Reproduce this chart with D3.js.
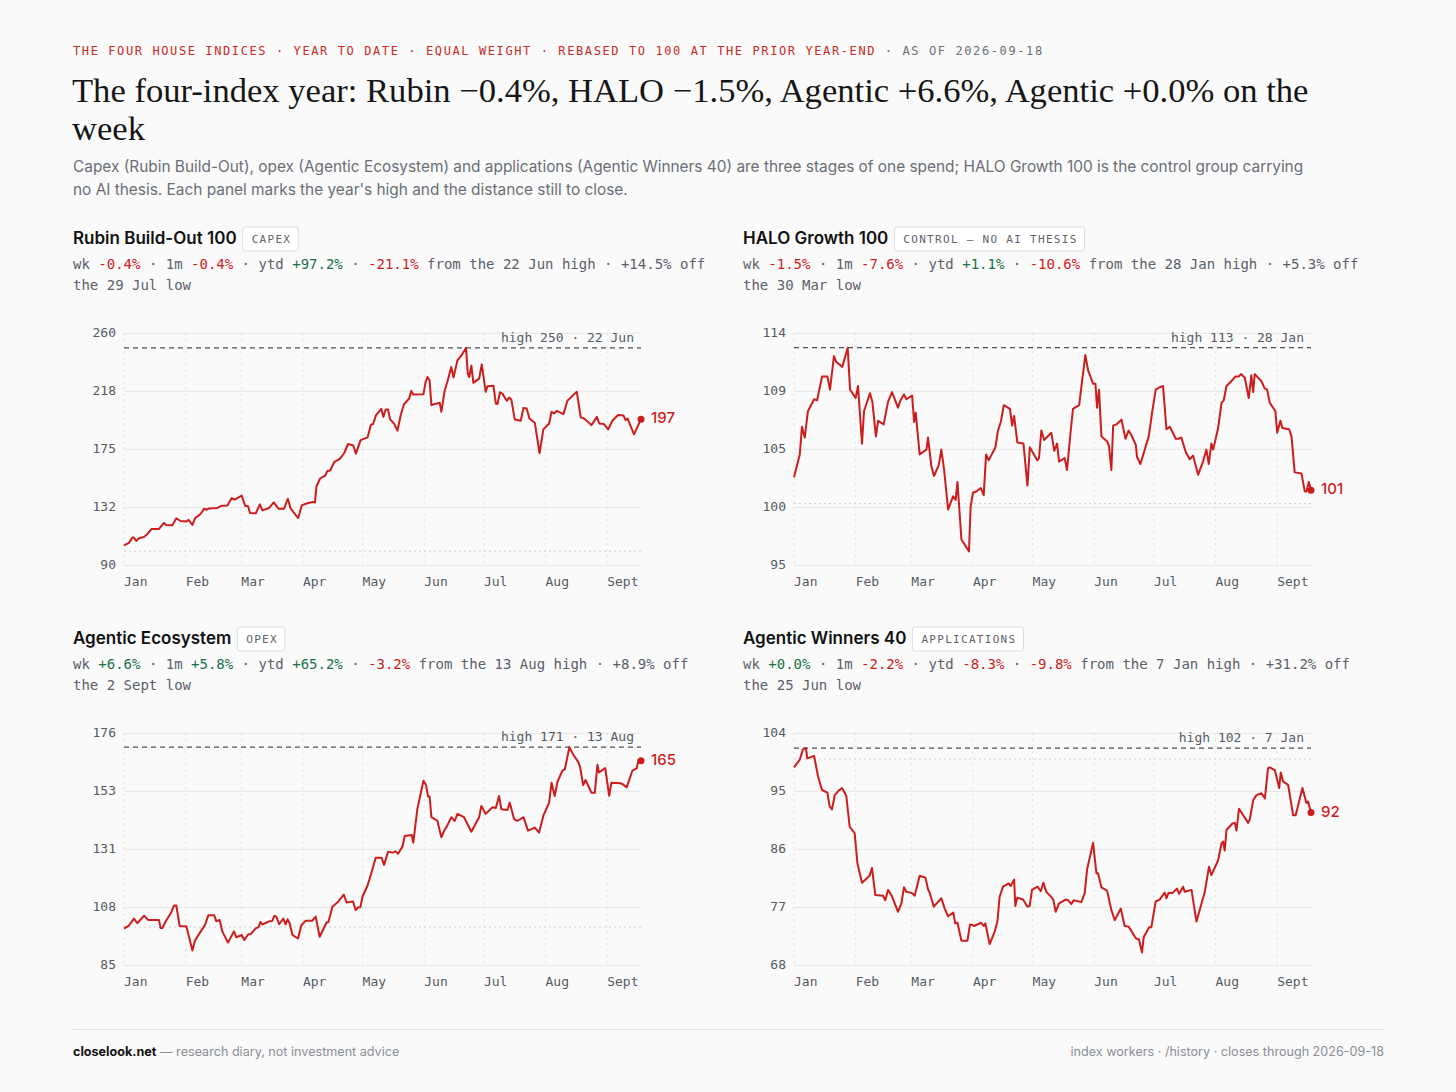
<!DOCTYPE html>
<html lang="en">
<head>
<meta charset="UTF-8">
<title>The four house indices</title>
<script src="https://cdnjs.cloudflare.com/ajax/libs/d3/7.8.5/d3.min.js"></script>
<style>
  body { margin: 0; background: #fafafa; }
  svg { display: block; }
  .mono { font-family: "DejaVu Sans Mono", monospace; }
  .sans { font-family: Inter, "Noto Sans", sans-serif; }
  .serif { font-family: "Liberation Serif", serif; }
  .grid { stroke: #e4e4e4; stroke-width: 1; }
  .vgrid { stroke: #dedede; stroke-width: 1; stroke-dasharray: 2 4; }
  .base { stroke: #cfcfcf; stroke-width: 1; stroke-dasharray: 2 3; }
  .high { stroke: #4a4f5a; stroke-width: 1.3; stroke-dasharray: 5 4; }
  .tick { fill: #555a63; font-size: 13px; }
  .line { fill: none; stroke: #cc1d1d; stroke-width: 2; stroke-linejoin: round; }
</style>
</head>
<body>
<svg id="page" width="1456" height="1092"></svg>
<script>
// ---- data: [days since 1 Jan 2026, index level] ----
const monthLabels = ["Jan", "Feb", "Mar", "Apr", "May", "Jun", "Jul", "Aug", "Sept"];

const rubinSeries = [[0,104.2],[2.5,106.1],[4.2,110],[5,110],[6.2,107.6],[7.5,109.5],[10,110.5],[11.7,112.5],[13.9,116.4],[17.6,116.4],[20.1,120.8],[21.3,119.3],[24.3,119],[26.3,124.2],[28.5,122.2],[31.4,121.8],[32.4,123],[34.4,119.3],[35.7,124.2],[38.6,127.6],[40.3,131.3],[41.4,130.5],[42.8,131.5],[47,131.8],[49.2,133.5],[52,133.7],[54.2,139.1],[55.7,137.9],[59.2,141],[60.9,133.5],[62.4,133],[63.4,128.1],[66.3,127.9],[68.3,134.5],[69.6,130],[73,131.8],[75.3,135.9],[77.7,131.3],[80.5,131.3],[82.4,138.6],[83.7,131.8],[85.2,128.8],[87.6,124.4],[89.4,133.7],[91.4,134.9],[94.8,136.2],[96,135.9],[96.8,147.6],[98.6,153.5],[101.2,155.7],[102.3,159.1],[103.7,159.4],[105.7,165.5],[108.5,167.9],[110.7,172.1],[112.7,178.9],[115.3,177.9],[116.6,171.8],[119,181.8],[122.5,183.8],[124.2,193.1],[125.3,193.6],[126.7,199.9],[129.4,204.8],[130.4,198.9],[131.6,204.3],[132.8,204.3],[133.8,197],[135.8,194],[137.5,188.7],[139.2,200.4],[140.8,208.2],[143.4,212.4],[144.5,218],[145.5,215.3],[150.6,215.6],[151.7,224.6],[152.6,228.2],[153.7,225.8],[154.6,207.5],[155.9,208.2],[158.8,209.2],[159.6,202.6],[161.3,218.5],[162.6,224.6],[164.6,235.6],[165.7,227.8],[167.7,240.5],[169.7,244.1],[172,249.7],[172.9,230.7],[173.6,228.2],[174.7,236.6],[175.7,223.9],[178.6,227],[179.9,237.5],[181.9,217.3],[182.8,221.4],[185.8,221.7],[187,208.7],[187.8,208.2],[189.1,217],[190.3,216],[192.5,210.7],[193.7,213.1],[194.8,211.6],[196.5,197],[199.5,196],[200.9,205.5],[202.5,205],[203.9,197.7],[206.6,194.5],[209,172.1],[210.9,189.7],[213.8,194],[215,202.6],[216.3,201.4],[217.6,203.3],[221,200.9],[223,210.7],[225,213.6],[227.7,217.3],[229.7,198.5],[231.4,197.7],[235.1,192.8],[237.8,198.9],[239,194],[241.4,193.6],[243.5,189.7],[245.6,196],[248.5,200.2],[251.2,199.9],[252.3,196.5],[253.2,197.7],[256.5,186],[260,197.2]];

const haloSeries = [[0,102.2],[2.9,104.1],[4,106.4],[5.4,105.5],[7,107.7],[10.1,108.7],[11.6,108.6],[14.1,110.6],[16.8,110.6],[18.1,109.5],[20.1,112.3],[21.3,111.8],[24.3,111.4],[27,113],[28.2,109.5],[31,108.8],[32.2,109.8],[34.2,105],[35.2,107.7],[38.2,109.2],[39.4,108.5],[41.2,105.6],[42.3,106.9],[45.1,106.6],[47.3,108.5],[49.3,109.3],[52.3,108],[53.5,108.6],[55.3,109.1],[56.5,108.7],[59.4,109],[60.4,106.8],[61.2,107.6],[63.2,104.1],[66.6,104.5],[67.4,105.5],[69.1,103.1],[70.4,102.3],[72.8,103.2],[74.1,104.5],[75.5,102.8],[77.5,99.5],[80,100.6],[81.3,100.3],[82.2,101.8],[84.2,97],[88,96],[88.8,99.7],[90,100.9],[91.7,101],[93.9,101.3],[95.4,100.7],[96.6,104.1],[97.9,103.6],[101.3,104.7],[102.6,106.1],[104,106.8],[105.5,108.2],[108.6,107.9],[109.7,106.5],[110.7,107.3],[112.3,105.1],[115.4,105],[117.4,101.5],[118.6,104.7],[122.4,103.6],[123.2,103.8],[124.4,106.1],[125.8,105.3],[129.4,105.9],[130.9,104.4],[132.3,105],[133.3,103.5],[136.1,103.8],[137.3,102.8],[138.7,105.3],[140.3,107.9],[143.4,108.2],[146.5,112.4],[147.9,111.1],[150.4,110],[151.6,110],[152.4,108],[153.4,109.5],[154.6,105.6],[157.4,105.2],[158.4,104.8],[159.6,102.8],[160.5,106.5],[162.1,106.6],[164.7,107],[166.7,105.4],[168.3,106.1],[169.7,105.7],[171.9,104.9],[172.5,103.9],[174.2,103.3],[176.4,104.5],[178.4,105.6],[180.2,107.7],[181.9,109.5],[183.9,109.7],[185.6,109.8],[187.3,106.2],[189,106.4],[192,105.4],[193.2,105.4],[194.8,105.5],[197,104.3],[199,103.7],[200.7,104],[203.2,102.4],[205.7,103.5],[207.4,104.5],[208.6,103.3],[209.9,105],[210.8,104.5],[213.3,106.3],[215,108.4],[216.1,108.6],[217.5,109.8],[220.5,110.3],[222,110.6],[223.8,110.6],[224.8,110.8],[226.7,110.5],[228.7,108.8],[230,110.7],[230.9,109.3],[231.7,110.8],[235.1,110.2],[236.7,109.6],[237.9,109.5],[239.3,108.4],[242.1,107.7],[243,105.9],[244.6,106.9],[245.6,106.3],[249,106.2],[250.2,105.6],[251.8,102.6],[255.2,102.5],[256.9,101],[257.7,101],[258.9,101.8],[260,101.1]];

const ecosystemSeries = [[0,99.4],[2.5,100.6],[5,103.3],[6.7,101.5],[10.1,104.5],[12.1,102.8],[17.6,102.8],[18.4,99.6],[19.3,99.6],[21,102.3],[23.5,105.4],[25.2,108.5],[26.3,108.5],[28,100.4],[31.4,100.2],[34.4,90.8],[35.7,94.7],[39.1,98.9],[40.7,100.8],[42.4,104.6],[45.4,104.6],[46.4,102.3],[48.1,102.8],[49.5,98.2],[52.3,93.9],[55.3,98.3],[56.5,96],[59.2,96.9],[60.5,94.9],[62.5,97.2],[63.7,97.2],[66.2,99.5],[67.6,99.9],[68.6,102],[69.6,101],[73.3,102.3],[74.6,102.4],[75.6,104.4],[76.6,104.1],[78,101.1],[80.1,103.3],[81.3,101.1],[82.3,103],[83.3,101.5],[84.7,96.9],[87.5,95.5],[89.2,100.7],[91.4,102.5],[94.7,102.5],[96.4,104.1],[98.4,96.2],[101.8,101.7],[102.8,102],[104.8,108],[107.3,109.6],[110.5,112.7],[112,109.6],[115.2,110],[116.5,106.7],[117.9,107.8],[118.9,107.8],[119.9,111.9],[122.4,116.1],[124.1,120.4],[126.6,127.2],[129.5,127.2],[130.8,124.4],[132.8,129.5],[135,129.2],[136.6,129.7],[137.8,128.7],[140,131.5],[141.2,135.7],[144.7,136.1],[145.5,133.1],[147.5,146.2],[150.6,157.4],[151.9,155.7],[152.9,151.2],[153.7,151.2],[154.6,143.1],[157.6,141.7],[159.6,135.2],[161,137.8],[162.3,139.4],[164.6,143.1],[166.3,141.6],[167.7,144.4],[171,143.1],[174.7,137.4],[178.6,143.1],[179.7,147.5],[181.9,144.4],[185.3,147],[187,146.7],[188.6,151.4],[189.8,146.2],[192.8,145.9],[194,148.8],[196.2,142.3],[197.8,141.6],[200.9,143.1],[203.2,137.8],[206.6,139],[208.7,137],[210.9,143.7],[213.8,148.8],[215,156.6],[216.6,151.4],[218,157],[220.5,161.4],[221.7,161.9],[224,170.6],[225.5,168.2],[228.4,164.8],[229.4,162.7],[230.9,155.7],[232.1,157.7],[235.1,152.7],[236.8,152.7],[238.1,163.7],[238.9,160.6],[242,162.4],[244,151.5],[245.1,156.6],[249.5,156.4],[250.7,156.1],[252.8,154.8],[255.7,161.4],[257.9,162.3],[258.7,165.5],[260,165.2]];

const winnersSeries = [[0,98.7],[2.9,99.9],[4.5,101.5],[6,101.7],[6.7,100.1],[10.1,100.5],[12.1,97.3],[14.1,95.2],[16.8,94.8],[17.9,92.7],[19.1,92.2],[20.5,94.4],[22.1,95],[24.1,95.5],[26.3,94.3],[28,89.5],[30.5,88.5],[31.9,83.8],[34.2,80.8],[38,81.9],[39.2,83.1],[40.9,78.9],[44.8,78.8],[45.9,78.1],[47.3,79.7],[49.3,78.7],[52.3,76.3],[54,77.6],[55.3,80.1],[56.5,79.4],[59.4,79.2],[60.7,78.8],[63.2,81.9],[66.1,81.6],[67.4,79.8],[68.2,79.3],[70.3,77.1],[74.1,78.4],[75.8,76.8],[77.5,75.6],[80.1,76.2],[81.1,74.5],[82.2,74.6],[84.2,71.8],[87.2,71.8],[88.5,74.3],[89.5,74.3],[90.5,74.1],[94.2,74.6],[95.4,74.1],[96.2,74.5],[98.4,71.3],[100.9,73.2],[102.3,74.8],[103.4,78.6],[105.1,80.2],[108,80.7],[109,80.3],[110.7,81.3],[111.3,77.2],[112.3,78.5],[115.2,78.2],[117.4,77.1],[118.5,77.2],[119.7,79.7],[122.4,80.2],[124.1,79.5],[125.4,80.8],[126.9,79.4],[129.1,78.7],[130.4,78.2],[131.6,76.3],[133.3,77.6],[136.6,78.2],[137.8,78.1],[139.5,77.5],[140.7,78.1],[144.5,77.8],[146.2,79.2],[147.4,82.9],[150.4,87],[152.1,82.3],[152.9,82.3],[154.6,80.1],[157.4,79.6],[159.6,76.6],[161.3,75],[164.3,76.8],[166.3,74.1],[168.3,74],[171.9,72.2],[173.5,72],[175,70],[175.9,72.4],[178.6,73.9],[179.7,73.9],[181.9,77.9],[183.9,78.2],[186.4,79.3],[187.3,78.4],[188.3,79.2],[190.3,79.2],[192.6,79.9],[193.7,79.1],[195.7,80.2],[196.5,79.4],[199.9,79.7],[202.4,74.8],[206.6,79.4],[208.7,83.3],[209.9,82],[213.3,84.3],[215,86.9],[215.8,87.2],[216.6,85.8],[217.5,89],[220.5,90],[221.7,90.1],[222.5,88.9],[223.8,92.3],[228.4,90.1],[229.2,90.6],[230.9,93.6],[232.6,94.4],[235.1,94.7],[236.8,93.9],[238.4,98.6],[239.3,98.7],[241.8,98.3],[244,95.5],[244.8,97.9],[246,96.5],[248.5,96],[251,91.3],[252.3,91.3],[255.7,95.5],[257.7,93.2],[258.5,93.4],[260,91.7]];

// y-axis extents per panel
const rubinDomain = [89.6, 260.4];
const haloDomain = [94.85, 114.2];
const ecosystemDomain = [85, 176];
const winnersDomain = [68, 104];

// stats line: wk, 1m, ytd, from high, high date, off low, low date
const rubinStats = ["-0.4%", "-0.4%", "+97.2%", "-21.1%", "22 Jun", "+14.5%", "29 Jul"];
const haloStats = ["-1.5%", "-7.6%", "+1.1%", "-10.6%", "28 Jan", "+5.3%", "30 Mar"];
const ecosystemStats = ["+6.6%", "+5.8%", "+65.2%", "-3.2%", "13 Aug", "+8.9%", "2 Sept"];
const winnersStats = ["+0.0%", "-2.2%", "-8.3%", "-9.8%", "7 Jan", "+31.2%", "25 Jun"];

const panelNames = ["Rubin Build-Out 100", "HALO Growth 100", "Agentic Ecosystem", "Agentic Winners 40"];
const panelBadges = ["CAPEX", "CONTROL \u2014 NO AI THESIS", "OPEX", "APPLICATIONS"];

// ---- layout ----
const RED = "#cc1d1d", GREEN = "#17714a", GREY = "#5b606a";
const start = new Date(2026, 0, 1), end = new Date(2026, 8, 18);
const toDate = d => new Date(start.getTime() + d * 864e5);

const svg = d3.select("#page");

// header
const eyebrow = svg.append("text").attr("class", "mono").attr("x", 73).attr("y", 55)
  .style("font-size", "12px").style("letter-spacing", "1.6px");
eyebrow.append("tspan").attr("fill", "#c42a26")
  .text("THE FOUR HOUSE INDICES \u00b7 YEAR TO DATE \u00b7 EQUAL WEIGHT \u00b7 REBASED TO 100 AT THE PRIOR YEAR-END");
eyebrow.append("tspan").attr("fill", "#6b6f78").text(" \u00b7 AS OF 2026-09-18");

const titleLines = ["The four-index year: Rubin \u22120.4%, HALO \u22121.5%, Agentic +6.6%, Agentic +0.0% on the", "week"];
svg.append("g").selectAll("text").data(titleLines).join("text")
  .attr("class", "serif").attr("x", 72).attr("y", (d, i) => 102 + i * 38)
  .attr("fill", "#161616").style("font-size", "34.6px").text(d => d);

const subLines = ["Capex (Rubin Build-Out), opex (Agentic Ecosystem) and applications (Agentic Winners 40) are three stages of one spend; HALO Growth 100 is the control group carrying",
  "no AI thesis. Each panel marks the year's high and the distance still to close."];
svg.append("g").selectAll("text").data(subLines).join("text")
  .attr("class", "sans").attr("x", 73).attr("y", (d, i) => 172 + i * 23)
  .attr("fill", "#6a6e76").style("font-size", "15.4px").text(d => d);

const panels = [
  { name: panelNames[0], badge: panelBadges[0], series: rubinSeries, domain: rubinDomain, stats: rubinStats, x: 73, y: 244 },
  { name: panelNames[1], badge: panelBadges[1], series: haloSeries, domain: haloDomain, stats: haloStats, x: 743, y: 244 },
  { name: panelNames[2], badge: panelBadges[2], series: ecosystemSeries, domain: ecosystemDomain, stats: ecosystemStats, x: 73, y: 644 },
  { name: panelNames[3], badge: panelBadges[3], series: winnersSeries, domain: winnersDomain, stats: winnersStats, x: 743, y: 644 }
];

const plotW = 517, plotH = 232;

panels.forEach(p => {
  const g = svg.append("g").attr("transform", `translate(${p.x},${p.y})`);

  // title + badge
  const title = g.append("text").attr("class", "sans").attr("fill", "#111")
    .style("font-size", "17px").style("font-weight", 600).text(p.name);
  const tw = title.node().getComputedTextLength();
  const badge = g.append("g").attr("transform", `translate(${tw + 6},-17)`);
  const btxt = badge.append("text").attr("class", "mono").attr("x", 9).attr("y", 16)
    .attr("fill", "#5e636c").style("font-size", "11px").style("letter-spacing", "1.3px").text(p.badge);
  const bw = btxt.node().getComputedTextLength() + 16;
  badge.insert("rect", "text").attr("width", bw).attr("height", 24).attr("rx", 3)
    .attr("fill", "#fff").attr("stroke", "#dcdcdc");

  // stats lines
  const s = p.stats;
  const col = v => v.startsWith("-") ? RED : GREEN;
  const l1 = g.append("text").attr("class", "mono").attr("y", 25).attr("fill", GREY).style("font-size", "14px");
  [["wk ", GREY], [s[0], col(s[0])], [" \u00b7 1m ", GREY], [s[1], col(s[1])], [" \u00b7 ytd ", GREY], [s[2], col(s[2])],
   [" \u00b7 ", GREY], [s[3], RED], [` from the ${s[4]} high \u00b7 ${s[5]} off`, GREY]]
    .forEach(([t, c]) => l1.append("tspan").attr("fill", c).text(t));
  g.append("text").attr("class", "mono").attr("y", 46).attr("fill", GREY).style("font-size", "14px")
    .text(`the ${s[6]} low`);

  // plot
  const plot = g.append("g").attr("transform", `translate(51,89.3)`);
  const x = d3.scaleTime().domain([start, end]).range([0, plotW]);
  const y = d3.scaleLinear().domain(p.domain).range([plotH, 0]);
  const yTicks = d3.range(5).map(i => p.domain[0] + i * (p.domain[1] - p.domain[0]) / 4);
  const months = d3.timeMonth.range(start, d3.timeDay.offset(end, 1));

  plot.append("g").selectAll("line").data(months).join("line").attr("class", "vgrid")
    .attr("x1", d => x(d)).attr("x2", d => x(d)).attr("y1", 0).attr("y2", plotH);
  plot.append("g").selectAll("line").data(yTicks).join("line").attr("class", "grid")
    .attr("x1", 0).attr("x2", plotW).attr("y1", d => y(d)).attr("y2", d => y(d));
  plot.append("line").attr("class", "base").attr("x1", 0).attr("x2", plotW).attr("y1", y(100)).attr("y2", y(100));

  plot.append("g").selectAll("text").data(yTicks).join("text").attr("class", "mono tick")
    .attr("x", -8).attr("y", d => y(d)).attr("text-anchor", "end").attr("dominant-baseline", "middle")
    .text(d => Math.round(d));
  plot.append("g").selectAll("text").data(months).join("text").attr("class", "mono tick")
    .attr("x", d => x(d)).attr("y", plotH + 21).text((d, i) => monthLabels[i]);

  // year high
  const hi = d3.max(p.series, d => d[1]);
  plot.append("line").attr("class", "high").attr("x1", 0).attr("x2", plotW).attr("y1", y(hi)).attr("y2", y(hi));
  plot.append("text").attr("class", "mono tick").attr("x", plotW - 7).attr("y", y(hi) - 6)
    .attr("text-anchor", "end").text(`high ${Math.round(hi)} \u00b7 ${s[4]}`);

  // series
  const line = d3.line().x(d => x(toDate(d[0]))).y(d => y(d[1]));
  plot.append("path").attr("class", "line").attr("d", line(p.series));
  const last = p.series[p.series.length - 1];
  plot.append("circle").attr("cx", x(toDate(last[0]))).attr("cy", y(last[1])).attr("r", 3.5).attr("fill", RED);
  plot.append("text").attr("class", "sans").attr("x", x(toDate(last[0])) + 10).attr("y", y(last[1]))
    .attr("dominant-baseline", "middle").attr("fill", RED).style("font-size", "15px").style("font-weight", 500)
    .text(Math.round(last[1]));
});

// footer
svg.append("line").attr("x1", 73).attr("x2", 1384).attr("y1", 1029.5).attr("y2", 1029.5).attr("stroke", "#e2e2e2");
const fl = svg.append("text").attr("class", "sans").attr("x", 73).attr("y", 1056).style("font-size", "12.6px");
fl.append("tspan").attr("fill", "#111").style("font-weight", 700).text("closelook.net");
fl.append("tspan").attr("fill", "#8a8e96").text(" \u2014 research diary, not investment advice");
svg.append("text").attr("class", "sans").attr("x", 1384).attr("y", 1056).attr("text-anchor", "end")
  .attr("fill", "#8a8e96").style("font-size", "12.6px").text("index workers \u00b7 /history \u00b7 closes through 2026-09-18");
</script>
</body>
</html>
